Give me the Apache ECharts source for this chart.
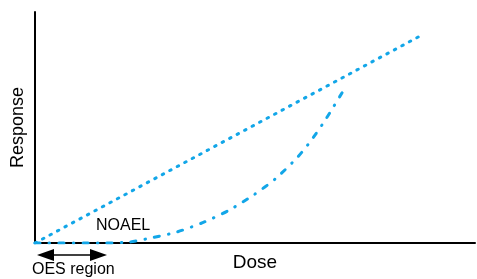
<!DOCTYPE html>
<html>
<head>
<meta charset="utf-8">
<script src="https://cdn.jsdelivr.net/npm/echarts@6/dist/echarts.min.js"></script>
<style>
  html, body { margin: 0; padding: 0; background: #fff; }
  #chart { width: 477px; height: 279px; }
</style>
</head>
<body>
<div id="chart"></div>
<script>
// dose (x) and response (y) on a 0-100 scale
const linearDose = [0, 87.5]
const linearResponse = [0, 89.6]

const thresholdDose = [0, 15.7, 21.4, 26.4, 32.3, 38.5, 44.2, 49.7, 54.7, 59.7, 62.6, 65.4, 67.6, 69.9]
const thresholdResponse = [0, 0, 0.4, 2.2, 4.8, 9.1, 14.3, 20.8, 27.9, 37.2, 44.0, 51.6, 58.2, 65.4]

const xName = 'Dose'
const yName = 'Response'
const noaelLabel = 'NOAEL'
const oesLabel = 'OES region'

const blue = '#12a6e8'
const font = '"Liberation Sans", Arial, sans-serif'

const chart = echarts.init(document.getElementById('chart'))

chart.setOption({
  animation: false,
  grid: { left: 35, right: 2, top: 12, bottom: 36 },
  xAxis: {
    type: 'value',
    min: 0,
    max: 100,
    name: xName,
    nameLocation: 'middle',
    nameGap: 10,
    nameTextStyle: { fontFamily: font, fontSize: 19, color: '#000', verticalAlign: 'top' },
    axisLine: { lineStyle: { color: '#000', width: 2 } },
    axisTick: { show: false },
    axisLabel: { show: false },
    splitLine: { show: false }
  },
  yAxis: {
    type: 'value',
    min: 0,
    max: 100,
    name: yName,
    nameLocation: 'middle',
    nameGap: 8,
    nameTextStyle: { fontFamily: font, fontSize: 18, color: '#000' },
    axisLine: { lineStyle: { color: '#000', width: 2 } },
    axisTick: { show: false },
    axisLabel: { show: false },
    splitLine: { show: false }
  },
  series: [
    {
      type: 'line',
      data: linearDose.map((d, i) => [d, linearResponse[i]]),
      showSymbol: false,
      lineStyle: { color: blue, width: 3, type: [1.5, 7], cap: 'round' }
    },
    {
      type: 'line',
      data: thresholdDose.map((d, i) => [d, thresholdResponse[i]]),
      showSymbol: false,
      smooth: 0.25,
      lineStyle: { color: blue, width: 3, type: [5, 9.25, 0.5, 9.25], cap: 'round' }
    }
  ],
  graphic: [
    {
      type: 'text',
      left: 96,
      top: 218,
      style: { text: noaelLabel, font: '16px ' + font, fill: '#000' }
    },
    {
      type: 'text',
      left: 32,
      top: 262,
      style: { text: oesLabel, font: '16px ' + font, fill: '#000' }
    },
    {
      type: 'line',
      shape: { x1: 50, y1: 255, x2: 94, y2: 255 },
      style: { stroke: '#000', lineWidth: 1.5 }
    },
    {
      type: 'polygon',
      shape: { points: [[37, 255], [54, 249], [54, 261]] },
      style: { fill: '#000' }
    },
    {
      type: 'polygon',
      shape: { points: [[107, 255], [90, 249], [90, 261]] },
      style: { fill: '#000' }
    }
  ]
})
</script>
</body>
</html>
